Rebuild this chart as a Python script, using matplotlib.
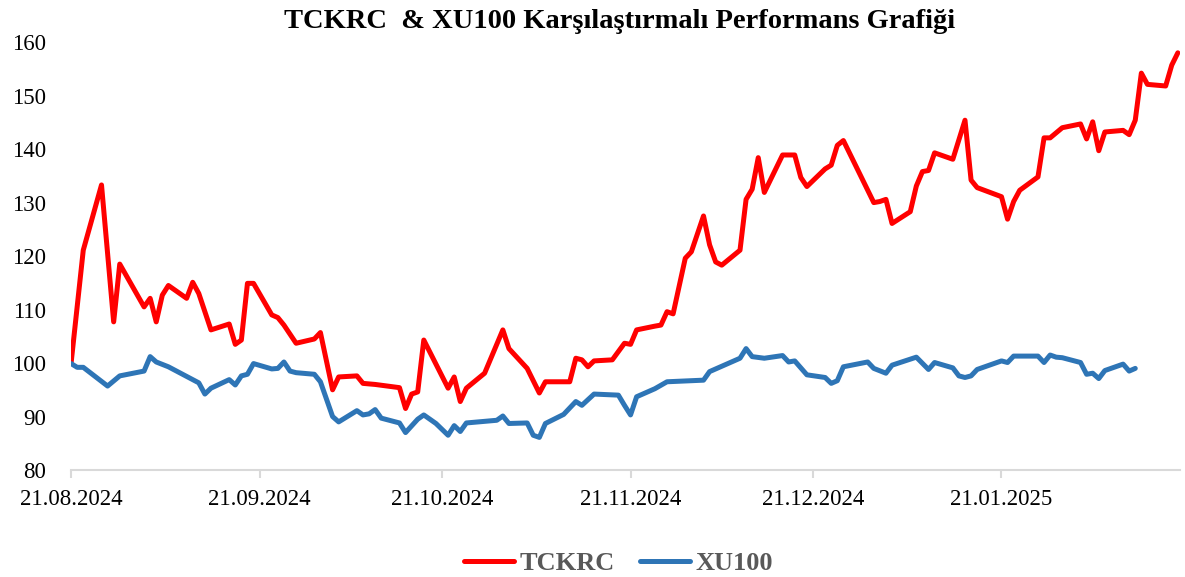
import matplotlib
matplotlib.use('Agg')
import matplotlib.pyplot as plt
import matplotlib.dates as mdates
import pandas as pd
import datetime as dt

tckrc_dates = [
    "2024-08-21", "2024-08-23", "2024-08-26", "2024-08-28", "2024-08-29",
    "2024-09-02", "2024-09-03", "2024-09-04", "2024-09-05", "2024-09-06",
    "2024-09-09", "2024-09-10", "2024-09-11", "2024-09-13", "2024-09-16",
    "2024-09-17", "2024-09-18", "2024-09-19", "2024-09-20", "2024-09-23",
    "2024-09-24", "2024-09-25", "2024-09-27", "2024-09-30", "2024-10-01",
    "2024-10-03", "2024-10-04", "2024-10-07", "2024-10-08", "2024-10-10",
    "2024-10-14", "2024-10-15", "2024-10-16", "2024-10-17", "2024-10-18",
    "2024-10-22", "2024-10-23", "2024-10-24", "2024-10-25", "2024-10-28",
    "2024-10-31", "2024-11-01", "2024-11-04", "2024-11-06", "2024-11-07",
    "2024-11-11", "2024-11-12", "2024-11-13", "2024-11-14", "2024-11-15",
    "2024-11-18", "2024-11-20", "2024-11-21", "2024-11-22", "2024-11-25",
    "2024-11-26", "2024-11-27", "2024-11-28", "2024-11-30", "2024-12-01",
    "2024-12-03", "2024-12-04", "2024-12-05", "2024-12-06", "2024-12-09",
    "2024-12-10", "2024-12-11", "2024-12-12", "2024-12-13", "2024-12-16",
    "2024-12-18", "2024-12-19", "2024-12-20", "2024-12-23", "2024-12-24",
    "2024-12-25", "2024-12-26", "2024-12-31", "2025-01-01", "2025-01-02",
    "2025-01-03", "2025-01-06", "2025-01-07", "2025-01-08", "2025-01-09",
    "2025-01-10", "2025-01-13", "2025-01-15", "2025-01-16", "2025-01-17",
    "2025-01-21", "2025-01-22", "2025-01-23", "2025-01-24", "2025-01-27",
    "2025-01-28", "2025-01-29", "2025-01-31", "2025-02-03", "2025-02-04",
    "2025-02-05", "2025-02-06", "2025-02-07", "2025-02-10", "2025-02-11",
    "2025-02-12", "2025-02-13", "2025-02-14", "2025-02-17", "2025-02-18",
    "2025-02-19",
]
tckrc_values = [
    100.0, 121.1, 133.3, 107.7, 118.5,
    110.5, 112.1, 107.7, 112.7, 114.5,
    112.1, 115.1, 113.0, 106.2, 107.3,
    103.5, 104.3, 114.9, 114.9, 109.0,
    108.5, 107.1, 103.7, 104.5, 105.7,
    95.0, 97.4, 97.6, 96.2, 96.0,
    95.4, 91.5, 94.2, 94.6, 104.3,
    95.3, 97.4, 92.8, 95.3, 98.1,
    106.2, 102.7, 99.0, 94.4, 96.5,
    96.5, 100.9, 100.6, 99.3, 100.4,
    100.6, 103.7, 103.5, 106.2, 106.9,
    107.1, 109.6, 109.2, 119.6, 120.8,
    127.5, 122.1, 118.9, 118.3, 121.1,
    130.6, 132.5, 138.4, 131.9, 138.9,
    138.9, 134.7, 133.0, 136.3, 137.0,
    140.7, 141.6, 130.0, 130.2, 130.6,
    126.1, 128.3, 133.1, 135.8, 136.0,
    139.3, 138.1, 145.4, 134.2, 132.8,
    131.1, 126.9, 130.2, 132.3, 134.8,
    142.1, 142.1, 144.0, 144.7, 141.9,
    145.1, 139.7, 143.2, 143.5, 142.7,
    145.4, 154.2, 152.1, 151.8, 155.7,
    158.0,
]

xu100_dates = [
    "2024-08-21", "2024-08-22", "2024-08-23", "2024-08-27", "2024-08-29",
    "2024-09-02", "2024-09-03", "2024-09-04", "2024-09-06", "2024-09-11",
    "2024-09-12", "2024-09-13", "2024-09-16", "2024-09-17", "2024-09-18",
    "2024-09-19", "2024-09-20", "2024-09-23", "2024-09-24", "2024-09-25",
    "2024-09-26", "2024-09-27", "2024-09-30", "2024-10-01", "2024-10-03",
    "2024-10-04", "2024-10-07", "2024-10-08", "2024-10-09", "2024-10-10",
    "2024-10-11", "2024-10-14", "2024-10-15", "2024-10-17", "2024-10-18",
    "2024-10-20", "2024-10-22", "2024-10-23", "2024-10-24", "2024-10-25",
    "2024-10-30", "2024-10-31", "2024-11-01", "2024-11-04", "2024-11-05",
    "2024-11-06", "2024-11-07", "2024-11-10", "2024-11-12", "2024-11-13",
    "2024-11-15", "2024-11-19", "2024-11-20", "2024-11-21", "2024-11-22",
    "2024-11-25", "2024-11-27", "2024-12-03", "2024-12-04", "2024-12-09",
    "2024-12-10", "2024-12-11", "2024-12-13", "2024-12-16", "2024-12-17",
    "2024-12-18", "2024-12-20", "2024-12-23", "2024-12-24", "2024-12-25",
    "2024-12-26", "2024-12-30", "2024-12-31", "2025-01-02", "2025-01-03",
    "2025-01-07", "2025-01-09", "2025-01-10", "2025-01-13", "2025-01-14",
    "2025-01-15", "2025-01-16", "2025-01-17", "2025-01-21", "2025-01-22",
    "2025-01-23", "2025-01-27", "2025-01-28", "2025-01-29", "2025-01-30",
    "2025-01-31", "2025-02-03", "2025-02-04", "2025-02-05", "2025-02-06",
    "2025-02-07", "2025-02-10", "2025-02-11", "2025-02-12",
]
xu100_values = [
    99.9, 99.2, 99.2, 95.7, 97.6,
    98.5, 101.2, 100.2, 99.3, 96.3,
    94.2, 95.3, 96.9, 95.9, 97.6,
    97.9, 99.9, 98.9, 99.0, 100.2,
    98.5, 98.2, 97.9, 96.5, 90.0,
    89.0, 91.1, 90.3, 90.5, 91.3,
    89.7, 88.8, 87.0, 89.5, 90.3,
    88.7, 86.5, 88.3, 87.2, 88.8,
    89.3, 90.1, 88.7, 88.8, 86.5,
    86.1, 88.7, 90.4, 92.8, 92.1,
    94.2, 94.0, 92.1, 90.3, 93.7,
    95.2, 96.5, 96.8, 98.4, 100.9,
    102.7, 101.2, 100.9, 101.4, 100.2,
    100.4, 97.8, 97.3, 96.2, 96.7,
    99.3, 100.2, 99.0, 98.1, 99.6,
    101.1, 98.8, 100.1, 99.1, 97.6,
    97.3, 97.6, 98.8, 100.4, 100.1,
    101.3, 101.3, 100.1, 101.5, 101.1,
    101.0, 100.1, 97.9, 98.1, 97.1,
    98.6, 99.8, 98.5, 99.0,
]

tick_dates = ["2024-08-21", "2024-09-21", "2024-10-21",
              "2024-11-21", "2024-12-21", "2025-01-21"]

serif = ['Liberation Serif', 'DejaVu Serif']

fig = plt.figure(figsize=(11.85, 5.77), dpi=100)
ax = fig.add_axes([0.06, 0.1854, 0.936, 0.7416])

ax.plot(pd.to_datetime(tckrc_dates), tckrc_values, color='#FF0000', lw=3.6,
        label='TCKRC', solid_joinstyle='round', solid_capstyle='round')
ax.plot(pd.to_datetime(xu100_dates), xu100_values, color='#2E75B6', lw=3.6,
        label='XU100', solid_joinstyle='round', solid_capstyle='round')

ax.set_ylim(80, 160)
ax.set_yticks(range(80, 161, 10))
ax.set_xlim(mdates.date2num(dt.date(2024, 8, 21)),
            mdates.date2num(dt.date(2025, 2, 19)) + 0.4)
ax.set_xticks(pd.to_datetime(tick_dates))
ax.xaxis.set_major_formatter(mdates.DateFormatter('%d.%m.%Y'))

for s in ['top', 'right', 'left']:
    ax.spines[s].set_visible(False)
ax.spines['bottom'].set_color('#d9d9d9')
ax.spines['bottom'].set_linewidth(1.5)
ax.tick_params(axis='x', length=6, width=1.5, color='#d9d9d9', pad=8)
ax.tick_params(axis='y', length=0, pad=18)
for lab in ax.get_xticklabels() + ax.get_yticklabels():
    lab.set_fontfamily(serif)
    lab.set_fontsize(16.5)
    lab.set_color('#000000')

fig.text(0.523, 0.963, 'TCKRC  & XU100 Karşılaştırmalı Performans Grafiği',
         ha='center', va='center', fontsize=20.5, fontweight='bold', family=serif)

leg = fig.legend(loc='center', bbox_to_anchor=(0.522, 0.024), ncol=2, frameon=False,
                 prop={'family': serif, 'size': 19, 'weight': 'bold'},
                 handlelength=1.9, columnspacing=0.95, handletextpad=0.2)
for t in leg.get_texts():
    t.set_color('#595959')

fig.savefig('out.png', dpi=100)
